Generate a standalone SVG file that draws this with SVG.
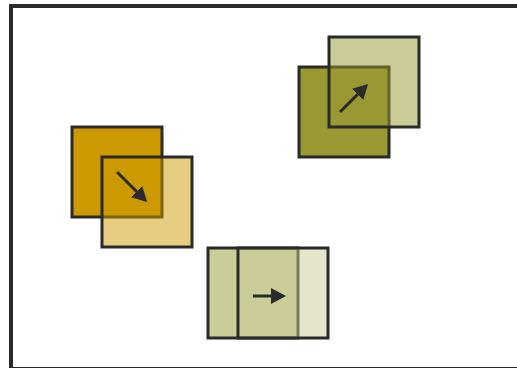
<svg xmlns="http://www.w3.org/2000/svg" width="517" height="368" viewBox="0 0 517 368">
  <style>
    .frame { fill: #ffffff; stroke: #2a2a2a; stroke-width: 4; }
    .box { stroke: #2a2a2a; stroke-width: 3; }
    .ghost { fill-opacity: 0.5; }
    .arrow { stroke: #2a2a2a; stroke-width: 3; fill: none; marker-end: url(#head); }
  </style>
  <defs>
    <marker id="head" markerUnits="userSpaceOnUse" markerWidth="16" markerHeight="16" refX="12" refY="8" orient="auto" viewBox="0 0 16 16">
      <path d="M0,0 L15,8 L0,16 Z" fill="#2a2a2a"/>
    </marker>
  </defs>
  <rect class="frame" x="11" y="6" width="512" height="363"/>
  <g id="node-gold-a"><rect class="box" x="72" y="127" width="90" height="90" fill="#cc9900"/></g>
  <g id="node-gold-b"><rect class="box ghost" x="102" y="157" width="90" height="90" fill="#cc9900"/></g>
  <g id="node-olive-a"><rect class="box" x="299" y="67" width="90" height="90" fill="#999933"/></g>
  <g id="node-olive-b"><rect class="box ghost" x="329" y="37" width="90" height="90" fill="#999933"/></g>
  <g id="node-khaki-a"><rect class="box" x="208" y="248" width="90" height="90" fill="#cccc99"/></g>
  <g id="node-khaki-b"><rect class="box ghost" x="238" y="248" width="90" height="90" fill="#cccc99"/></g>
  <g id="connectors">
    <line class="arrow" x1="117" y1="172" x2="145" y2="200"/>
    <line class="arrow" x1="340" y1="112" x2="366" y2="86"/>
    <line class="arrow" x1="253" y1="296" x2="283" y2="296"/>
  </g>
</svg>
